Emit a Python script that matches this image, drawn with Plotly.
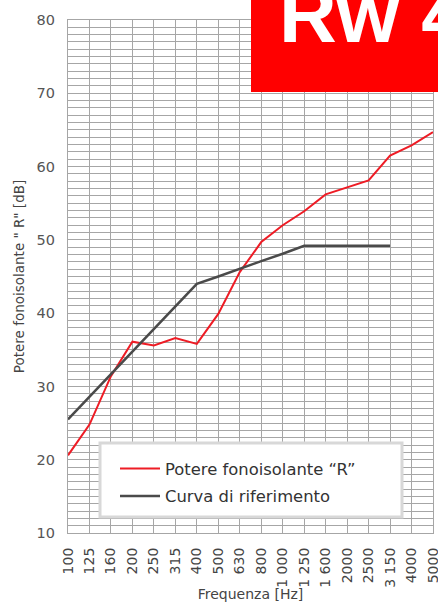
import plotly.graph_objects as go

# Third-octave band centre frequencies (category labels)
frequencies = ["100", "125", "160", "200", "250", "315", "400", "500", "630",
               "800", "1 000", "1 250", "1 600", "2000", "2500", "3 150",
               "4000", "5000"]

# Measured sound reduction index R [dB]
r_measured = [20.6, 24.8, 31.4, 36.1, 35.6, 36.6, 35.8, 39.9, 45.6,
              49.7, 52.0, 53.9, 56.2, 57.2, 58.1, 61.5, 62.9, 64.7]

# Shifted reference curve (100 Hz – 3150 Hz)
ref_frequencies = frequencies[:16]
r_reference = [25.5, 28.6, 31.7, 34.7, 37.8, 40.9, 44.0, 45.0, 46.1,
               47.1, 48.1, 49.2, 49.2, 49.2, 49.2, 49.2]

y_ticks = [10, 20, 30, 40, 50, 60, 70, 80]

GRID = "#a6a6a6"
FONT = "'DejaVu Sans', sans-serif"

fig = go.Figure()

fig.add_trace(go.Scatter(
    x=frequencies, y=r_measured, mode="lines",
    name="Potere fonoisolante \u201cR\u201d", legendgroup="r",
    line=dict(color="#ee1c25", width=2),
))
fig.add_trace(go.Scatter(
    x=ref_frequencies, y=r_reference, mode="lines",
    name="Curva di riferimento", legendgroup="ref",
    line=dict(color="#4a4a4a", width=2.5),
))

fig.update_layout(
    width=438, height=602,
    margin=dict(l=68, r=5, t=20, b=69),
    paper_bgcolor="white", plot_bgcolor="white",
    font=dict(family=FONT, color="#444444"),
    showlegend=True,
    legend=dict(
        x=(115 - 68) / 365, y=0.159, xanchor="left", yanchor="top",
        bgcolor="rgba(0,0,0,0)", borderwidth=0,
        font=dict(size=16.4, color="#333333", family=FONT),
        tracegroupgap=3, itemwidth=40,
    ),
    xaxis=dict(
        type="category", categoryorder="array", categoryarray=frequencies,
        range=[0, 17], tickangle=-90, automargin=False,
        tickfont=dict(size=14, color="#444444"),
        showgrid=True, gridcolor=GRID, gridwidth=1.2,
        showline=True, linecolor=GRID, linewidth=1.2, mirror=True,
        ticks="", ticklabelstandoff=8,
        title=dict(text="Frequenza [Hz]", font=dict(size=14, color="#444444"),
                   standoff=6),
        zeroline=False,
    ),
    yaxis=dict(
        range=[10, 80], tickvals=y_ticks, automargin=False,
        tickfont=dict(size=14.5, color="#555555"),
        showgrid=True, gridcolor=GRID, gridwidth=1.2,
        minor=dict(dtick=1, showgrid=True, gridcolor=GRID, gridwidth=1),
        showline=True, linecolor=GRID, linewidth=1.2, mirror=True,
        ticks="", ticklabelstandoff=9,
        title=dict(text="Potere fonoisolante \" R\" [dB]",
                   font=dict(size=13.5, color="#444444"), standoff=8),
        zeroline=False,
    ),
)

# Legend frame
fig.add_shape(
    type="rect", xref="paper", yref="paper",
    x0=(100 - 68) / 365, x1=(402 - 68) / 365,
    y0=(533 - 517) / 513, y1=(533 - 443) / 513,
    fillcolor="white", line=dict(color="#d8d8d8", width=3), layer="above",
)

# Rating badge
fig.add_shape(
    type="rect", xref="paper", yref="paper",
    x0=(251 - 68) / 365, x1=(440 - 68) / 365,
    y0=(533 - 92) / 513, y1=(533 + 2) / 513,
    fillcolor="#ff0000", line=dict(width=0), layer="above",
)
fig.add_annotation(
    text="<b>Rw 44 dB</b>", xref="paper", yref="paper",
    x=(277 - 68) / 365, y=(533 - 15) / 513,
    xanchor="left", yanchor="middle", showarrow=False,
    font=dict(family="Liberation Sans, Arial, sans-serif", size=80, color="white"),
)

fig.write_html("out.html")
